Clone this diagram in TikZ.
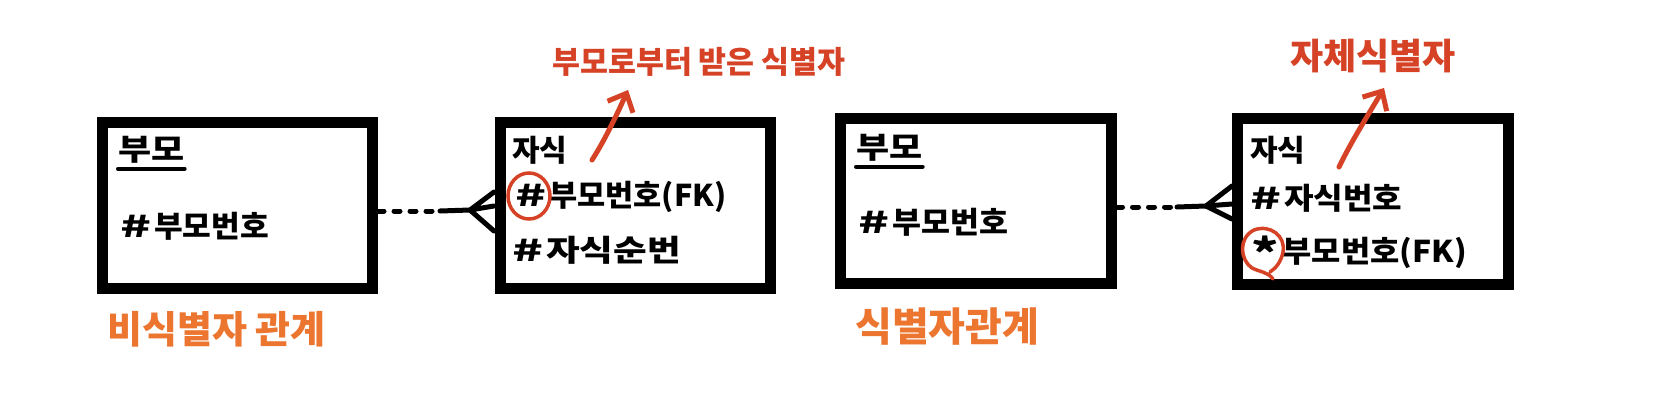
\documentclass[tikz,border=0pt]{standalone}
\usepackage{fontspec}
\newfontfamily\kr{Noto Sans CJK KR}
\usetikzlibrary{arrows.meta}
\definecolor{redt}{RGB}{214,66,38}
\definecolor{oranget}{RGB}{236,118,48}
\newcommand\xsc[2]{\scalebox{#1}[1]{#2}}
\newcommand\hsh{\xsc{1.7}{\#}\hspace{3pt}}
\newcommand\bigstar{\raisebox{-0.2em}{\xsc{1.3}{\fontsize{40}{40}\selectfont *}}\hspace{4pt}}
\begin{document}
\begin{tikzpicture}[x=1pt,y=-1pt,
  box/.style={draw=black,line width=11pt,fill=white,minimum width=270pt,minimum height=166pt,inner sep=0pt},
  txt/.style={anchor=west,inner sep=0pt,font=\kr\bfseries\fontsize{30}{30}\selectfont},
  redlab/.style={anchor=west,inner sep=0pt,text=redt,font=\kr\bfseries\fontsize{31}{31}\selectfont},
  orlab/.style={anchor=west,inner sep=0pt,text=oranget,font=\kr\bfseries\fontsize{38}{38}\selectfont},
  conn/.style={line width=5pt,line cap=round},
  dotconn/.style={line width=5pt,line cap=round,dash pattern=on 6pt off 10pt},
  redarrow/.style={draw=redt,line width=5pt,line cap=round,line join=round,-{Straight Barb[length=15pt,width=28pt,line width=5pt]}},
  redring/.style={draw=redt,line width=3.5pt,line cap=round}
]
\useasboundingbox (0,0) rectangle (1668,407);
\fill[white] (0,0) rectangle (1668,407);

% boxes
\node[box] (b1) at (237.5,205) {};
\node[box] (b2) at (635,205) {};
\node[box,minimum width=271pt,minimum height=165pt] (b3) at (975.5,200.5) {};
\node[box,minimum width=271pt] (b4) at (1372.5,201) {};

% texts box 1
\node[txt] (t11) at (118,150) {\xsc{1.2}{부모}};
\draw[line width=4pt,line cap=round] ([yshift=-5pt]t11.south west) -- ([yshift=-5pt]t11.south east);
\node[txt] (t12) at (120,226) {\hsh\xsc{1.04}{부모번호}};
% box 2
\node[txt] (t21) at (512,150) {자식};
\node[txt] (t22) at (515,197) {\hsh\xsc{1.02}{부모번호(FK)}};
\node[txt] (t23) at (512,250) {\hsh\xsc{1.22}{자식순번}};
% box 3
\node[txt] (t31) at (856,148) {\xsc{1.2}{부모}};
\draw[line width=4pt,line cap=round] ([yshift=-5pt]t31.south west) -- ([yshift=-5pt]t31.south east);
\node[txt] (t32) at (858,222) {\hsh\xsc{1.05}{부모번호}};
% box 4
\node[txt] (t41) at (1250,150) {자식};
\node[txt] (t42) at (1250,198) {\hsh\xsc{1.07}{자식번호}};
\node[txt] (t43) at (1251,252) {\bigstar\xsc{1.06}{부모번호(FK)}};

% red rings
\draw[redring] (529,196) ellipse [x radius=21, y radius=23];
\draw[redring] (1273,279) .. controls (1268,272) and (1260,272) .. (1252,268)
  .. controls (1240,260) and (1238,238) .. (1254,230)
  .. controls (1270,224) and (1286,236) .. (1283,252)
  .. controls (1281,262) and (1276,268) .. (1270,272);

% connectors
\coordinate (d1) at (440,211);
\coordinate (f1) at (470,210);
\coordinate (p11) at (494,192);
\coordinate (p12) at (494,206);
\coordinate (p13) at (494,231);
\draw[dotconn] (b1.east |- d1) -- (d1);
\draw[conn] (d1) -- (f1);
\draw[conn] (f1) -- (p11) (f1) -- (p12) (f1) -- (p13);

\coordinate (d2) at (1177,207);
\coordinate (f2) at (1206,206);
\coordinate (p21) at (1232,186);
\coordinate (p22) at (1232,204);
\coordinate (p23) at (1232,219);
\draw[dotconn] (b3.east |- d2) -- (d2);
\draw[conn] (d2) -- (f2);
\draw[conn] (f2) -- (p21) (f2) -- (p22) (f2) -- (p23);

% red annotations
\node[redlab] (r1) at (552,62) {\xsc{0.98}{부모로부터 받은 식별자}};
\node[redlab,font=\kr\bfseries\fontsize{36}{36}\selectfont] (r2) at (1290,56) {자체식별자};
\coordinate (a1s) at (592,160);
\coordinate (a1e) at (628,90);
\coordinate (a2s) at (1339,167);
\coordinate (a2e) at (1384,88);
\draw[redarrow] (a1s) .. controls (605,140) and (618,112) .. (a1e);
\draw[redarrow] (a2s) .. controls (1352,140) and (1370,112) .. (a2e);

% orange labels
\node[orlab] (o1) at (107,329) {비식별자 관계};
\node[orlab,font=\kr\bfseries\fontsize{40}{40}\selectfont] (o2) at (855,327) {식별자관계};
\end{tikzpicture}
\end{document}
